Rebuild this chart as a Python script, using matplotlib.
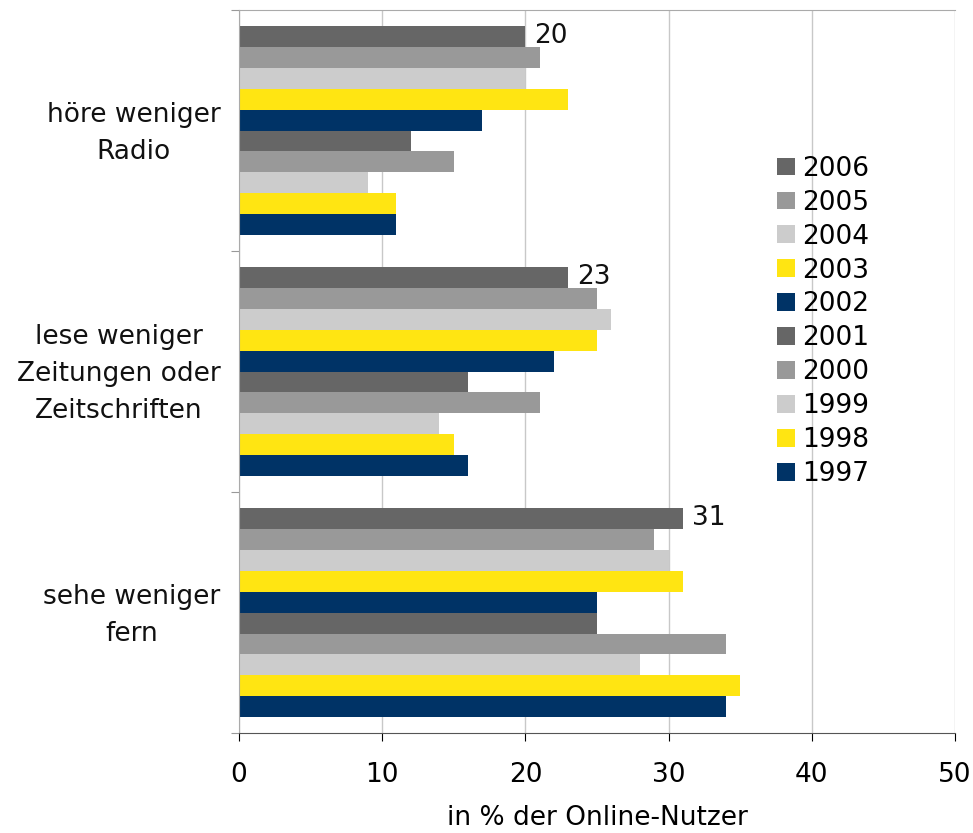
import matplotlib.pyplot as plt
import matplotlib.transforms as mtransforms
import numpy as np

# categories (top to bottom) and years (top bar to bottom bar)
categories = ['höre weniger\nRadio', 'lese weniger\nZeitungen oder\nZeitschriften', 'sehe weniger\nfern']
years = ['2006', '2005', '2004', '2003', '2002', '2001', '2000', '1999', '1998', '1997']

# values per year: [Radio, Zeitungen, Fern]
v2006 = [20, 23, 31]
v2005 = [21, 25, 29]
v2004 = [20, 26, 30]
v2003 = [23, 25, 31]
v2002 = [17, 22, 25]
v2001 = [12, 16, 25]
v2000 = [15, 21, 34]
v1999 = [9, 14, 28]
v1998 = [11, 15, 35]
v1997 = [11, 16, 34]
series = [v2006, v2005, v2004, v2003, v2002, v2001, v2000, v1999, v1998, v1997]

colors = ['#666666', '#999999', '#cccccc', '#ffe512', '#003366',
          '#666666', '#999999', '#cccccc', '#ffe512', '#003366']

plt.rcParams['font.family'] = 'DejaVu Sans'
fs = 19

fig = plt.figure(figsize=(9.73, 8.33), dpi=100)
ax = fig.add_axes([0.2456, 0.12, 0.9815 - 0.2456, 0.988 - 0.12])

bh = 0.087
centers = np.arange(len(categories)) + 0.5
n = len(years)
for i, (yr, vals, c) in enumerate(zip(years, series, colors)):
    ypos = centers - (n / 2 - 0.5 - i) * bh
    ax.barh(ypos, vals, height=bh, color=c, label=yr, zorder=2)
    if i == 0:
        for y, v in zip(ypos, vals):
            ax.text(v + 0.6, y, str(v), va='center', ha='left', fontsize=fs, color='#111111')

ax.set_ylim(3, 0)
ax.set_xlim(0, 50)
ax.set_xticks([0, 10, 20, 30, 40, 50])
ax.tick_params(axis='x', labelsize=fs, length=6, direction='out', pad=15, color='black')
ax.set_yticks([0, 1, 2, 3])
ax.set_yticklabels([])
ax.tick_params(axis='y', which='major', length=6, color='#999999')

# category labels, centred lines, left of the axis
trans = mtransforms.blended_transform_factory(ax.transAxes, ax.transData)
for c, lab in zip(centers, categories):
    ax.text(-0.026, c + 0.012, lab, transform=trans, ha='right', va='center',
            multialignment='center', linespacing=1.55, fontsize=fs, color='#111111')

ax.xaxis.grid(True, color='#c8c8c8', linewidth=1, zorder=0)
ax.set_axisbelow(True)
for s in ['top', 'right', 'left']:
    ax.spines[s].set_color('#aaaaaa')
ax.spines['right'].set_visible(False)
ax.spines['bottom'].set_color('#555555')

ax.set_xlabel('in % der Online-Nutzer', fontsize=fs, labelpad=12)

ax.legend(loc='upper left', bbox_to_anchor=(0.737, 0.813), frameon=False, fontsize=fs,
          handlelength=0.66, handleheight=0.66, handletextpad=0.3, labelspacing=0.30,
          borderaxespad=0)

fig.savefig('out.png', dpi=100)
